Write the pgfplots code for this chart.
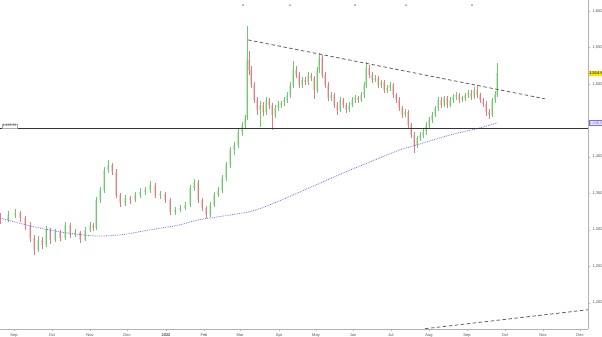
\documentclass[border=0pt]{standalone}
\usepackage{pgfplots}
\pgfplotsset{compat=1.18}
\usepackage{pgfplotstable}
\usepackage{fontspec}
\setmainfont{Liberation Sans}
\definecolor{upc}{RGB}{110,200,110}
\definecolor{upb}{RGB}{195,238,195}
\definecolor{dnc}{RGB}{225,125,125}
\definecolor{dnb}{RGB}{247,205,205}
\definecolor{mac}{RGB}{120,110,230}
\definecolor{trend}{RGB}{95,95,95}
\pgfplotstableread{
x o h l c
0 1318 1323 1308 1313.6
8 1313.6 1326 1310 1320.5
15 1320.5 1328 1316 1323.2
20 1323.2 1326 1311 1316.3
25 1316.3 1319 1300 1306.8
30 1306.8 1310 1283 1289.0
34 1289.0 1293 1266 1272.5
38 1272.5 1292 1269 1286.2
42 1286.2 1290 1274 1279.4
46 1279.4 1305 1276 1299.9
50 1299.9 1303 1281 1286.2
55 1286.2 1301 1283 1297.2
60 1297.2 1300 1284 1289.0
65 1289.0 1311 1286 1306.8
70 1306.8 1309 1289 1293.1
75 1293.1 1301 1290 1297.2
80 1297.2 1299 1282 1286.2
85 1286.2 1304 1284 1299.9
90 1299.9 1311 1297 1306.8
93 1306.8 1309 1298 1302.6
96 1302.6 1345 1300 1341.0
100 1341.0 1359 1337 1354.7
104 1354.7 1386 1351 1382.1
108 1382.1 1395 1378 1388.9
112 1388.9 1392 1375 1379.4
116 1379.4 1383 1343 1347.9
120 1347.9 1351 1331 1336.9
125 1336.9 1348 1333 1343.7
130 1343.7 1347 1336 1341.0
135 1341.0 1352 1338 1347.9
140 1347.9 1357 1344 1352.0
145 1352.0 1359 1348 1354.7
150 1354.7 1367 1351 1361.6
155 1361.6 1364 1343 1347.9
160 1347.9 1353 1342 1349.0
165 1349.0 1352 1337 1341.0
170 1341.0 1344 1320 1324.6
175 1324.6 1331 1320 1327.3
180 1327.3 1334 1324 1330.0
185 1330.0 1338 1327 1334.2
190 1334.2 1361 1331 1357.4
194 1357.4 1370 1353 1365.7
198 1365.7 1368 1337 1341.0
202 1341.0 1344 1326 1330.0
206 1330.0 1333 1316 1320.5
210 1320.5 1338 1318 1334.2
214 1334.2 1352 1331 1347.9
218 1347.9 1359 1345 1354.7
222 1354.7 1375 1351 1371.1
226 1371.1 1393 1367 1388.9
230 1388.9 1413 1385 1409.5
234 1409.5 1421 1403 1416.4
238 1416.4 1438 1412 1434.2
242 1434.2 1448 1429 1443.8
245 1443.8 1458 1439 1453.3
247 1453.3 1579 1450 1532.8
249 1532.8 1545 1512 1519.1
251 1519.1 1524 1494 1498.5
254 1498.5 1502 1474 1478.0
257 1478.0 1482 1458 1464.3
260 1464.3 1476 1441 1471.2
263 1471.2 1475 1456 1461.6
266 1461.6 1482 1458 1478.0
269 1478.0 1481 1466 1471.2
272 1471.2 1474 1437 1457.5
275 1457.5 1471 1453 1467.0
278 1467.0 1476 1463 1471.2
281 1471.2 1477 1467 1473.9
284 1473.9 1482 1470 1478.0
287 1478.0 1489 1474 1484.9
290 1484.9 1502 1481 1498.5
293 1498.5 1531 1495 1519.1
296 1519.1 1524 1508 1512.3
299 1512.3 1516 1494 1498.5
302 1498.5 1509 1495 1505.4
305 1505.4 1509 1498 1502.7
308 1502.7 1516 1499 1512.3
311 1512.3 1515 1504 1508.1
314 1508.1 1511 1479 1491.7
317 1491.7 1523 1488 1519.1
319 1519.1 1542 1515 1535.5
322 1535.5 1539 1508 1512.3
325 1512.3 1516 1494 1498.5
328 1498.5 1502 1476 1480.7
331 1480.7 1489 1477 1484.9
334 1484.9 1488 1467 1471.2
337 1471.2 1475 1458 1464.3
340 1464.3 1482 1461 1478.0
343 1478.0 1481 1467 1471.2
346 1471.2 1474 1460 1464.3
349 1464.3 1475 1461 1471.2
352 1471.2 1482 1468 1478.0
355 1478.0 1485 1474 1480.7
358 1480.7 1484 1474 1478.0
361 1478.0 1489 1475 1484.9
364 1484.9 1502 1481 1498.5
366 1498.5 1530 1495 1521.8
369 1521.8 1526 1508 1512.3
372 1512.3 1516 1501 1505.4
375 1505.4 1512 1502 1508.1
378 1508.1 1511 1494 1498.5
381 1498.5 1506 1495 1502.7
384 1502.7 1506 1488 1491.7
387 1491.7 1498 1488 1494.4
390 1494.4 1502 1490 1498.5
393 1498.5 1501 1481 1484.9
396 1484.9 1488 1474 1478.0
399 1478.0 1482 1463 1467.0
402 1467.0 1470 1453 1457.5
405 1457.5 1465 1454 1461.6
408 1461.6 1464 1440 1443.8
411 1443.8 1447 1426 1430.1
414 1430.1 1434 1405 1416.4
417 1416.4 1429 1412 1425.9
420 1425.9 1434 1422 1430.1
423 1430.1 1438 1426 1434.2
426 1434.2 1448 1430 1443.8
429 1443.8 1454 1440 1450.6
432 1450.6 1461 1447 1457.5
435 1457.5 1470 1454 1467.0
438 1467.0 1482 1463 1478.0
441 1478.0 1482 1467 1471.2
444 1471.2 1484 1468 1480.7
447 1480.7 1484 1467 1471.2
450 1471.2 1482 1468 1478.0
453 1478.0 1486 1474 1482.1
456 1482.1 1489 1478 1484.9
459 1484.9 1488 1474 1478.0
462 1478.0 1484 1475 1480.7
465 1480.7 1488 1477 1484.9
468 1484.9 1492 1481 1487.6
471 1487.6 1491 1478 1482.1
474 1482.1 1496 1479 1491.7
477 1491.7 1498 1481 1484.9
480 1484.9 1488 1474 1478.0
483 1478.0 1481 1469 1472.5
486 1472.5 1476 1456 1461.6
489 1461.6 1465 1452 1457.5
492 1457.5 1481 1454 1478.0
495 1478.0 1490 1474 1484.9
497 1484.9 1529 1482 1514.6
}\ohlc
\pgfplotstableread{
x v
0 1316.3
30 1305.4
60 1297.2
93 1291.7
120 1293.0
150 1299.9
180 1306.8
200 1314.0
250 1325.0
280 1340.0
310 1358.0
340 1376.0
377 1397.0
400 1409.5
420 1417.7
450 1430.0
480 1439.6
497 1446.5
}\mavg
\begin{document}
\begin{tikzpicture}
\begin{axis}[
  at={(0,0)}, anchor=south west,
  scale only axis, width=588pt, height=329pt,
  xmin=0, xmax=588, ymin=1164, ymax=1615,
  axis x line*=bottom, axis y line*=right,
  axis line style={gray!60, line width=0.5pt},
  tick style={gray!60, line width=0.4pt},
  major tick length=2pt, tick align=outside,
  xtick={14,52,90,127,166,204,240,279,316,353,391,429,467,505,543,580},
  xticklabels={Sep,Oct,Nov,Dec,\textbf{2022},Feb,Mar,Apr,May,Jun,Jul,Aug,Sep,Oct,Nov,Dec},
  ytick={1200,1250,1300,1350,1400,1500,1550,1600},
  scaled y ticks=false,
  /pgf/number format/fixed,
  /pgf/number format/1000 sep={,},
  /pgf/number format/assume math mode=true,
  ticklabel style={font=\fontsize{4}{4.5}\selectfont, text=black!70},
  xticklabel style={yshift=1pt},
  yticklabel style={xshift=-1pt},
  clip=true,
  ohlc/.style={draw=none, mark=none, forget plot, error bars/y dir=plus, error bars/y explicit, error bars/error mark=none},
]
% bodies
\addplot[ohlc, restrict expr to domain={\thisrow{c}-\thisrow{o}}{0:10000},
  error bars/error bar style={draw=upb, line width=1.3pt}]
  table[x=x, y=o, y error plus expr={\thisrow{c}-\thisrow{o}}] {\ohlc};
\addplot[ohlc, restrict expr to domain={\thisrow{o}-\thisrow{c}}{0.0001:10000},
  error bars/error bar style={draw=dnb, line width=1.3pt}]
  table[x=x, y=c, y error plus expr={\thisrow{o}-\thisrow{c}}] {\ohlc};
% wicks
\addplot[ohlc, restrict expr to domain={\thisrow{c}-\thisrow{o}}{0:10000},
  error bars/error bar style={draw=upc, line width=0.45pt}]
  table[x=x, y=l, y error plus expr={\thisrow{h}-\thisrow{l}}] {\ohlc};
\addplot[ohlc, restrict expr to domain={\thisrow{o}-\thisrow{c}}{0.0001:10000},
  error bars/error bar style={draw=dnc, line width=0.45pt}]
  table[x=x, y=l, y error plus expr={\thisrow{h}-\thisrow{l}}] {\ohlc};
% moving average
\addplot[mac, densely dotted, line width=0.8pt, smooth, mark=none] table[x=x, y=v] {\mavg};
% horizontal level
\addplot[black!80, line width=0.6pt, mark=none] coordinates {(0,1438.55) (588,1438.55)};
% trend lines
\addplot[trend, line width=0.8pt, dash pattern=on 3.5pt off 2.5pt, mark=none] coordinates {(248,1560.3) (545,1479.5)};
\addplot[trend, line width=0.8pt, dash pattern=on 3.5pt off 2.5pt, mark=none] coordinates {(425,1164.4) (588,1190.4)};
% top markers
\addplot[only marks, mark=*, mark size=0.45pt, black!60] coordinates {(243,1608) (290,1608) (355,1608) (406,1608) (472,1608)};
% labels
\node[anchor=south west, draw=gray!70, fill=white, inner sep=0.6pt, font=\fontsize{3.5}{4}\selectfont, text=black!70] at (axis cs:2,1439.5) {1,438.55};
\end{axis}
\node[anchor=west, fill=yellow!85!orange, inner sep=0.7pt, font=\fontsize{4}{4.5}\selectfont] at (588.5pt,{(1514.6-1164)/(1615-1164)*329pt}) {1,514.6};
\node[anchor=west, draw=mac, fill=blue!8, inner sep=0.6pt, font=\fontsize{4}{4.5}\selectfont, text=mac] at (588.5pt,{(1446.5-1164)/(1615-1164)*329pt}) {1,446.5};
\pgfresetboundingbox
\useasboundingbox (0pt,-8pt) rectangle (602pt,329pt);
\end{tikzpicture}
\end{document}
